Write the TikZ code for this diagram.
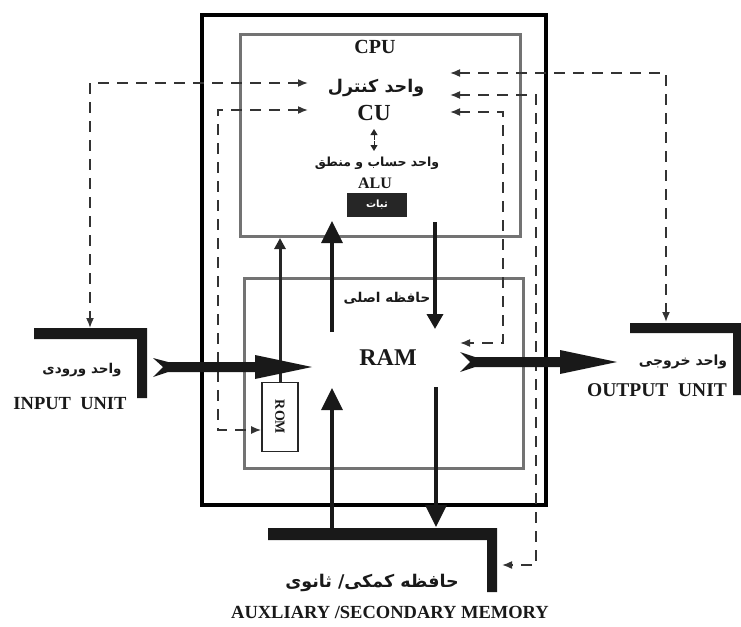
\documentclass[tikz,border=0pt]{standalone}
\usepackage{fontspec}
\setmainfont{Liberation Serif}
\newfontfamily\fa[Script=Arabic]{DejaVu Sans}
\TeXXeTstate=1
\usetikzlibrary{arrows.meta}
\newcommand{\fatext}[1]{{\fa\bfseries\beginR #1\endR}}
\newcommand{\fsz}[1]{\fontsize{#1}{#1}\selectfont}
\tikzset{
  outerbox/.style={draw=black, line width=4pt},
  graybox/.style={draw=black!55, line width=3pt},
  ctrl/.style={draw=black!80, line width=1.6pt, dash pattern=on 11pt off 8pt,
    {Latex[length=10pt,width=8pt]}-{Latex[length=10pt,width=8pt]}},
  bus/.style={draw=black!90, line width=3.5pt, -{Triangle[length=22pt,width=21pt]}},
  busdown/.style={draw=black!90, line width=3.5pt, -{Triangle[length=15pt,width=16pt]}},
  thinbus/.style={draw=black!85, line width=3pt, -{Triangle[length=11pt,width=11pt]}},
  bigarrow/.style={fill=black!90},
  unitbar/.style={fill=black!90},
  lbl/.style={inner sep=0pt, text=black!90},
}
\begin{document}
\begin{tikzpicture}[x=1pt,y=-1pt]
\useasboundingbox (0,0) rectangle (741,626);

% boxes
\draw[outerbox] (202,15) rectangle (546,505);
\draw[graybox] (240,35) rectangle (520,236);
\draw[graybox] (244,278) rectangle (523,468);

% unit bars
\fill[unitbar] (34,328) -- (147,328) -- (147,398) -- (137,398) -- (137,339) -- (34,339) -- cycle;
\fill[unitbar] (630,323) -- (741,323) -- (741,395) -- (733,395) -- (733,333) -- (630,333) -- cycle;
\fill[unitbar] (268,528) -- (497,528) -- (497,592) -- (487,592) -- (487,540) -- (268,540) -- cycle;

% CPU texts
\node[lbl] (cpu) at (375,47) {\fsz{20}\bfseries CPU};
\node[lbl] (cufa) at (376,88) {\fsz{17.5}\fatext{واحد کنترل}};
\node[lbl] (cu) at (374,113) {\fsz{23}\bfseries CU};
\node[lbl] (alufa) at (377,163) {\fsz{12.5}\fatext{واحد حساب و منطق}};
\node[lbl] (alu) at (375,183) {\fsz{16}\bfseries ALU};
\node[fill=black!85, minimum width=60pt, minimum height=24pt, inner sep=0pt, text=white] (reg) at (377,205) {\fsz{10}\fatext{ثبات}};
\draw[black!85, line width=1pt, -{Triangle[length=6pt,width=7pt]}] (374,140) -- (374,129);
\draw[black!85, line width=1pt, -{Triangle[length=6pt,width=7pt]}] (374,141) -- (374,151);

% RAM texts
\node[lbl] (ramfa) at (387,298) {\fsz{13.5}\fatext{حافظه اصلی}};
\node[lbl] (ram) at (388,358) {\fsz{24}\bfseries RAM};
\node[draw=black!85, line width=1.6pt, minimum width=36pt, minimum height=69pt, inner sep=0pt] (rom) at (280,417) {};
\node[lbl, rotate=-90] (romtext) at (rom.center) {\fsz{14}\bfseries ROM};

% unit texts
\node[lbl] (infa) at (82,370) {\fsz{13.5}\fatext{واحد ورودی}};
\node[lbl] (inen) at (70,404) {\fsz{18.5}\bfseries INPUT\ \ UNIT};
\node[lbl] (outfa) at (683,362) {\fsz{14}\fatext{واحد خروجی}};
\node[lbl] (outen) at (657,390) {\fsz{19.5}\bfseries OUTPUT\ \ UNIT};
\node[lbl] (auxfa) at (372,583) {\fsz{17.5}\fatext{حافظه کمکی/ ثانوی}};
\node[lbl] (auxen) at (390,612) {\fsz{18.5}\bfseries AUXLIARY /SECONDARY MEMORY};

% coordinates
\coordinate (cuL1) at (308,83);
\coordinate (cuL2) at (308,110);
\coordinate (cuR1) at (450,73);
\coordinate (cuR2) at (450,95);
\coordinate (cuR3) at (450,112);
\coordinate (inTop) at (90,328);
\coordinate (outTop) at (666,322);
\coordinate (romL) at (rom.west |- 0,430);
\coordinate (ramR) at (460,343);
\coordinate (auxR) at (502,565);
\coordinate (auxTopL) at (332,528);
\coordinate (ramBotL) at (332,388);
\coordinate (ramTopL) at (332,332);
\coordinate (cpuBotL) at (332,221);
\coordinate (cpuBotR) at (435,222);
\coordinate (ramTopR) at (435,329);
\coordinate (ramBotR) at (436,387);
\coordinate (auxTopR) at (436,527);
\coordinate (cpuBotRom) at (rom.north |- 0,238);

% control lines
\draw[ctrl] (cuL1) -| (inTop);
\draw[ctrl] (cuL2) -- (218,110) |- (romL);
\draw[ctrl] (cuR1) -| (outTop);
\draw[ctrl] (cuR2) -- (536,95) |- (auxR);
\draw[ctrl] (cuR3) -- (503,112) |- (ramR);

% buses
\draw[bus] (auxTopL) -- (ramBotL);
\draw[bus] (ramTopL) -- (cpuBotL);
\draw[busdown] (cpuBotR) -- (ramTopR);
\draw[bus] (ramBotR) -- (auxTopR);
\draw[thinbus] (rom.north) -- (cpuBotRom);

% big arrows
\fill[bigarrow] (153,358) -- (168,362) -- (255,362) -- (255,355) -- (312,367) -- (255,379) -- (255,372) -- (168,372) -- (153,377) -- (163,367) -- cycle;
\fill[bigarrow] (460,352) -- (475,357) -- (560,357) -- (560,350) -- (617,362) -- (560,374) -- (560,367) -- (475,367) -- (460,372) -- (470,362) -- cycle;
\end{tikzpicture}
\end{document}
